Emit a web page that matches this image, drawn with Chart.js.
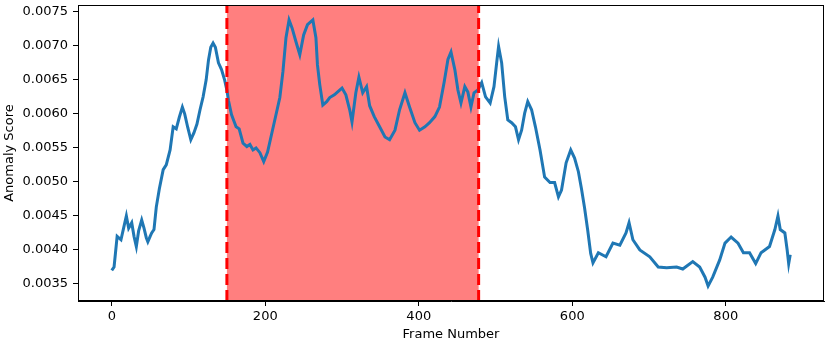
<!DOCTYPE html>
<html>
<head>
<meta charset="utf-8">
<script src="https://cdn.jsdelivr.net/npm/chart.js@4"></script>
<style>
  html, body { margin: 0; padding: 0; background: #fff; }
</style>
</head>
<body>
<canvas id="scoreChart" width="830" height="343"></canvas>
<script>
// Frame numbers and anomaly scores
const frames = [
  0, 3, 7, 12, 16, 19, 22, 26, 29, 32, 35, 39, 42, 45, 47, 50, 52, 55, 58, 62,
  67, 71, 76, 80, 84, 88, 92, 95, 99, 103, 107, 111, 115, 119, 123, 126, 129, 132, 135, 139,
  143, 147, 150, 152, 156, 159, 162, 166, 171, 176, 180, 184, 188, 193, 198, 203, 208, 213, 219, 223,
  227, 231, 235, 240, 245, 250, 255, 262, 266, 268, 271, 275, 280, 284, 290, 294, 300, 305, 310, 313,
  318, 322, 327, 332, 336, 342, 349, 356, 362, 369, 375, 382, 388, 395, 401, 408, 414, 421, 427, 433,
  438, 442, 447, 451, 455, 460, 464, 468, 472, 477, 482, 487, 493, 498, 502, 504, 508, 512, 516, 521,
  526, 530, 534, 538, 542, 547, 552, 558, 564, 571, 577, 582, 586, 592, 598, 603, 608, 612, 616, 620,
  624, 627, 634, 644, 653, 662, 670, 674, 679, 688, 701, 712, 723, 736, 744, 757, 766, 773, 777, 783,
  792, 799, 807, 816, 823, 831, 839, 846, 857, 864, 868, 871, 877, 880, 882, 884
];
const scores = [
  0.00370, 0.00375, 0.00420, 0.00415, 0.00435, 0.00450, 0.00432, 0.00440, 0.00420, 0.00405,
  0.00428, 0.00444, 0.00432, 0.00418, 0.00412, 0.00420, 0.00425, 0.00430, 0.00463, 0.00490,
  0.00518, 0.00525, 0.00547, 0.00581, 0.00578, 0.00595, 0.00610, 0.00600, 0.00580, 0.00562,
  0.00572, 0.00585, 0.00606, 0.00625, 0.00650, 0.00679, 0.00698, 0.00704, 0.00698, 0.00675,
  0.00665, 0.00650, 0.00635, 0.00620, 0.00599, 0.00590, 0.00581, 0.00578, 0.00557, 0.00552,
  0.00555, 0.00547, 0.00550, 0.00543, 0.00530, 0.00544, 0.00569, 0.00594, 0.00624, 0.00662,
  0.00712, 0.00738, 0.00726, 0.00706, 0.00687, 0.00716, 0.00731, 0.00738, 0.00712, 0.00672,
  0.00643, 0.00613, 0.00618, 0.00624, 0.00628, 0.00632, 0.00638, 0.00628, 0.00606, 0.00588,
  0.00631, 0.00654, 0.00631, 0.00640, 0.00612, 0.00596, 0.00581, 0.00566, 0.00562, 0.00576,
  0.00606, 0.00631, 0.00610, 0.00587, 0.00576, 0.00581, 0.00587, 0.00596, 0.00610, 0.00646,
  0.00680, 0.00691, 0.00665, 0.00635, 0.00616, 0.00640, 0.00632, 0.00610, 0.00631, 0.00635,
  0.00646, 0.00625, 0.00616, 0.00640, 0.00680, 0.00699, 0.00675, 0.00625, 0.00591, 0.00587,
  0.00581, 0.00562, 0.00576, 0.00601, 0.00618, 0.00606, 0.00581, 0.00547, 0.00507, 0.00499,
  0.00499, 0.00478, 0.00488, 0.00528, 0.00547, 0.00535, 0.00515, 0.00490, 0.00462, 0.00430,
  0.00395, 0.00381, 0.00396, 0.00390, 0.00410, 0.00407, 0.00425, 0.00440, 0.00415, 0.00400,
  0.00390, 0.00375, 0.00374, 0.00375, 0.00372, 0.00383, 0.00375, 0.00360, 0.00347, 0.00360,
  0.00385, 0.00410, 0.00419, 0.00410, 0.00396, 0.00396, 0.00380, 0.00396, 0.00405, 0.00430,
  0.00450, 0.00430, 0.00425, 0.00400, 0.00380, 0.00393
];
const anomalyStart = 150;
const anomalyEnd = 478;
const xTicks = [0, 200, 400, 600, 800];
const yTicks = [0.0035, 0.0040, 0.0045, 0.0050, 0.0055, 0.0060, 0.0065, 0.0070, 0.0075];

const points = frames.map((f, i) => ({ x: f, y: scores[i] }));

// shaded anomaly window, dashed boundaries and the box around the axes
const anomalyPlugin = {
  id: 'anomalyPlugin',
  beforeDatasetsDraw(chart) {
    const { ctx, chartArea, scales } = chart;
    const x0 = scales.x.getPixelForValue(anomalyStart);
    const x1 = scales.x.getPixelForValue(anomalyEnd);
    ctx.save();
    ctx.fillStyle = 'rgba(255, 0, 0, 0.5)';
    ctx.fillRect(x0, chartArea.top, x1 - x0, chartArea.bottom - chartArea.top);
    ctx.restore();
  },
  afterDatasetsDraw(chart) {
    const { ctx, chartArea, scales } = chart;
    ctx.save();
    ctx.strokeStyle = '#ff0000';
    ctx.lineWidth = 3;
    ctx.setLineDash([11, 5]);
    [anomalyStart, anomalyEnd].forEach(v => {
      const px = scales.x.getPixelForValue(v);
      ctx.beginPath();
      ctx.moveTo(px, chartArea.bottom);
      ctx.lineTo(px, chartArea.top);
      ctx.stroke();
    });
    ctx.setLineDash([]);
    ctx.strokeStyle = '#000';
    ctx.lineWidth = 1;
    ctx.strokeRect(chartArea.left + 0.5, chartArea.top + 0.5,
      chartArea.right - chartArea.left - 1, chartArea.bottom - chartArea.top - 1);
    ctx.restore();
  }
};

const font = { family: 'DejaVu Sans', size: 13 };

const ctx = document.getElementById('scoreChart').getContext('2d');
new Chart(ctx, {
  type: 'line',
  data: {
    datasets: [{
      label: 'Anomaly Score',
      data: points,
      borderColor: '#1f77b4',
      borderWidth: 3,
      pointRadius: 0,
      tension: 0,
      fill: false
    }]
  },
  options: {
    responsive: false,
    animation: false,
    layout: { padding: { top: 5, right: 6, left: 0, bottom: 0 } },
    plugins: {
      legend: { display: false },
      tooltip: { enabled: false }
    },
    scales: {
      x: {
        type: 'linear',
        min: -44,
        max: 928,
        afterBuildTicks: scale => { scale.ticks = xTicks.map(v => ({ value: v })); },
        afterFit: scale => {
          scale.height = 42;
          scale.paddingLeft = 0;
          scale.paddingRight = 0;
        },
        ticks: {
          color: '#000',
          font: font,
          padding: 3,
          maxRotation: 0,
          callback: v => String(v)
        },
        grid: { drawOnChartArea: false, drawTicks: true, tickLength: 5, color: '#000' },
        border: { display: true, color: '#000', width: 1 },
        title: {
          display: true,
          text: 'Frame Number',
          color: '#000',
          font: font,
          padding: { top: 0, bottom: 1 }
        }
      },
      y: {
        type: 'linear',
        min: 0.00325,
        max: 0.0076,
        afterBuildTicks: scale => { scale.ticks = yTicks.map(v => ({ value: v })); },
        afterFit: scale => {
          scale.width = 78;
          scale.paddingTop = 0;
          scale.paddingBottom = 0;
        },
        ticks: {
          color: '#000',
          font: font,
          padding: 5,
          callback: v => v.toFixed(4)
        },
        grid: { drawOnChartArea: false, drawTicks: true, tickLength: 5, color: '#000' },
        border: { display: true, color: '#000', width: 1 },
        title: {
          display: true,
          text: 'Anomaly Score',
          color: '#000',
          font: font,
          padding: { top: 2, bottom: 0 }
        }
      }
    }
  },
  plugins: [anomalyPlugin]
});
</script>
</body>
</html>
